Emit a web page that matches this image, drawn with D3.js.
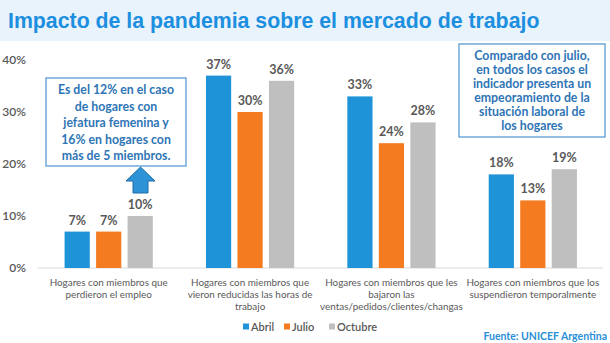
<!DOCTYPE html>
<html>
<head>
<meta charset="utf-8">
<script src="https://cdn.jsdelivr.net/npm/d3@7"></script>
<style>
  body { margin: 0; background: #fff; }
  svg { display: block; font-family: Lato, "Open Sans", sans-serif; }
</style>
</head>
<body>
<svg id="chart" width="610" height="343"></svg>
<script>
// bar chart data
var categories = [
  ["Hogares con miembros que", "perdieron el empleo"],
  ["Hogares con miembros que", "vieron reducidas las horas de", "trabajo"],
  ["Hogares con miembros que les", "bajaron las", "ventas/pedidos/clientes/changas"],
  ["Hogares con miembros que los", "suspendieron temporalmente"]
];
var series = ["Abril", "Julio", "Octubre"];
var abril = [7, 37, 33, 18];
var julio = [7, 30, 24, 13];
var octubre = [10, 36, 28, 19];
var yTicks = [0, 10, 20, 30, 40];

var colors = ["#1f93d7", "#f47b20", "#bfbfbf"];
var values = [abril, julio, octubre];

var svg = d3.select("#chart");
var W = 610, H = 343;

// title banner
svg.append("rect").attr("x", 0).attr("y", 0).attr("width", W).attr("height", 41)
  .attr("fill", "#e9f3fb");
svg.append("text").attr("x", 8).attr("y", 28)
  .attr("font-family", "'Liberation Sans', Arial, sans-serif")
  .attr("font-weight", "bold").attr("font-size", 21.3)
  .attr("fill", "#1c8fe0")
  .text("Impacto de la pandemia sobre el mercado de trabajo");

var y = d3.scaleLinear().domain([0, 40]).range([268, 60]);
var x0 = d3.scaleBand().domain(d3.range(categories.length)).range([38, 603.5]);
var x1 = d3.scaleBand().domain(d3.range(series.length)).range([0, 94.5])
  .paddingInner(0.2).paddingOuter(0.1);

// y axis labels
svg.append("g").selectAll("text").data(yTicks).join("text")
  .attr("x", 26).attr("y", function(d) { return y(d) + 4; })
  .attr("text-anchor", "end").attr("font-size", 12).attr("font-weight", 600)
  .attr("fill", "#595959")
  .text(function(d) { return d + "%"; });

svg.append("line").attr("x1", 38).attr("x2", 603).attr("y1", y(0)).attr("y2", y(0))
  .attr("stroke", "#d9d9d9").attr("stroke-width", 1);

// bars
var groups = svg.append("g").selectAll("g").data(categories).join("g")
  .attr("transform", function(d, i) {
    return "translate(" + (x0(i) + x0.bandwidth() / 2 - 47.25) + ",0)";
  });

groups.each(function(c, i) {
  var g = d3.select(this);
  var row = series.map(function(s, j) { return { j: j, v: values[j][i] }; });
  g.selectAll("rect").data(row).join("rect")
    .attr("x", function(d) { return x1(d.j); })
    .attr("y", function(d) { return y(d.v); })
    .attr("width", x1.bandwidth())
    .attr("height", function(d) { return y(0) - y(d.v); })
    .attr("fill", function(d) { return colors[d.j]; });
  g.selectAll("text.val").data(row).join("text").attr("class", "val")
    .attr("x", function(d) { return x1(d.j) + x1.bandwidth() / 2; })
    .attr("y", function(d) { return y(d.v) - 7; })
    .attr("text-anchor", "middle").attr("font-size", 12.5).attr("font-weight", "bold")
    .attr("fill", "#595959")
    .text(function(d) { return d.v + "%"; });
});

// category labels
svg.append("g").selectAll("text").data(categories).join("text")
  .attr("text-anchor", "middle").attr("font-size", 9.9).attr("fill", "#595959")
  .each(function(lines, i) {
    var t = d3.select(this);
    lines.forEach(function(l, k) {
      t.append("tspan").attr("x", x0(i) + x0.bandwidth() / 2)
        .attr("y", 286 + k * 12).text(l);
    });
  });

// legend
var legend = svg.append("g").attr("transform", "translate(0,331)");
var lx = [243, 284, 329];
series.forEach(function(s, j) {
  legend.append("rect").attr("x", lx[j]).attr("y", -7.5).attr("width", 6).attr("height", 6)
    .attr("fill", colors[j]);
  legend.append("text").attr("x", lx[j] + 8).attr("y", 0)
    .attr("font-size", 11).attr("font-weight", 600).attr("fill", "#595959").text(s);
});

svg.append("text").attr("x", 607).attr("y", 340).attr("text-anchor", "end")
  .attr("font-size", 10.5).attr("font-weight", "bold").attr("fill", "#2a8fd8")
  .text("Fuente: UNICEF Argentina");

// notes
function note(x, yTop, w, h, lines, lh) {
  svg.append("rect").attr("x", x).attr("y", yTop).attr("width", w).attr("height", h)
    .attr("fill", "#fff").attr("stroke", "#5b9bd5").attr("stroke-width", 1.3);
  var t = svg.append("text").attr("text-anchor", "middle").attr("font-size", 12.3)
    .attr("font-weight", "bold").attr("fill", "#2e75b6");
  lines.forEach(function(l, k) {
    t.append("tspan").attr("x", x + w / 2).attr("y", yTop + 16 + k * lh).text(l);
  });
}

note(46, 78, 140, 88, ["Es del 12% en el caso", "de hogares con", "jefatura femenina y",
  "16% en hogares con", "más de 5 miembros."], 16.5);
note(459, 44, 146, 93, ["Comparado  con julio,", "en todos los casos el",
  "indicador presenta un", "empeoramiento de la", "situación  laboral de", "los hogares"], 14);

// arrow pointing up to the first note
svg.append("path")
  .attr("d", d3.line()([[140.5, 167], [155, 181], [148, 181], [148, 193], [133, 193], [133, 181], [126, 181]]) + "Z")
  .attr("fill", "#2e92d6").attr("stroke", "#1f6fa8").attr("stroke-width", 1);
</script>
</body>
</html>
